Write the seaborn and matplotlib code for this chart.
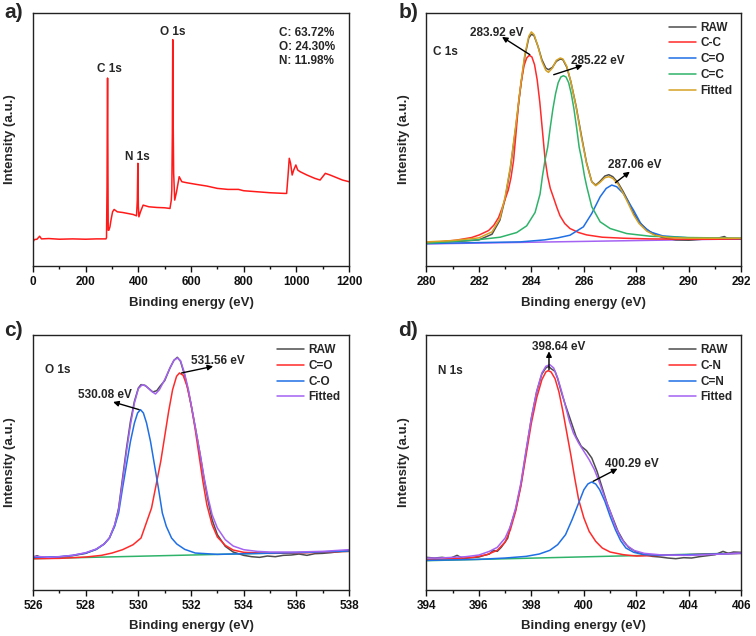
"""
XPS spectra: survey + high-resolution C 1s / O 1s / N 1s with peak fits
"""

import numpy as np
import pandas as pd
import matplotlib
matplotlib.use("Agg")
import matplotlib.pyplot as plt
import seaborn as sns

# ── data (binding energy in eV, intensity in a.u.) ───────────────────────
# survey
survey_e = [0, 5, 15, 25, 32, 60, 100, 150, 200, 240, 270, 277, 279, 281, 282, 283,
            283.8, 284.5, 285.5, 288, 292, 296, 302, 308, 320, 340, 360, 380, 393,
            396, 398, 400, 402, 408, 418, 440, 470, 500, 520, 525, 527, 529, 530.5,
            532, 534, 538, 545, 555, 565, 583, 620, 660, 700, 740, 780, 800, 850,
            900, 955, 963, 968, 973, 978, 984, 990, 998, 1005, 1014, 1040, 1070,
            1090, 1100, 1110, 1128, 1150, 1175, 1200]
survey_i = [72, 79, 80, 89, 81, 82, 80, 81, 80, 81, 81, 81, 85, 237, 447, 562,
            447, 277, 107, 107, 117, 137, 162, 169, 162, 160, 157, 154, 150,
            197, 307, 177, 147, 162, 182, 177, 175, 174, 172, 197, 227, 397, 677,
            447, 277, 197, 222, 267, 252, 249, 244, 239, 232, 229, 229, 225, 222,
            219, 217, 217, 267, 322, 307, 272, 287, 302, 287, 282, 272, 262,
            257, 267, 277, 272, 265, 257, 252]
survey_peaks = ["C 1s", "N 1s", "O 1s"]
survey_peak_pos = [(289, 590), (395, 327), (532, 700)]
composition = ["C: 63.72%", "O: 24.30%", "N: 11.98%"]

# C 1s
c1s_bg_e = [280, 292]
c1s_bg_i = [66, 81]
c1s_raw_e = [280, 280.5, 281, 281.5, 282, 282.5, 282.8, 283.0, 283.2, 283.4, 283.6, 283.75,
             283.9, 284.0, 284.1, 284.25, 284.4, 284.55, 284.65, 284.8, 284.95, 285.1,
             285.2, 285.35, 285.5, 285.7, 285.9, 286.1, 286.3, 286.45, 286.6, 286.8,
             286.95, 287.1, 287.3, 287.5, 287.7, 287.9, 288.1, 288.4, 288.7, 289.0,
             289.5, 290, 290.5, 291, 291.35, 291.5, 292]
c1s_raw_i = [69, 71, 73, 75, 78, 95, 137, 202, 292, 412, 542, 627,
             682, 693, 689, 657, 617, 592, 587, 594, 612, 619,
             617, 594, 552, 479, 392, 309, 252, 242, 252, 269,
             273, 267, 249, 222, 192, 157, 132, 109, 94, 85,
             78, 77, 80, 81, 88, 81, 82]
c1s_cc_e = [280, 280.6, 281.12, 281.72, 282.02, 282.37, 282.57, 282.75, 282.87, 283.0,
            283.12, 283.22, 283.32, 283.42, 283.52, 283.62, 283.72, 283.82, 283.92,
            284.02, 284.12, 284.22, 284.32, 284.42, 284.52, 284.62, 284.72, 284.84,
            284.97, 285.09, 285.27, 285.47, 285.8, 286.1, 286.7, 287.5, 288.5, 290, 292]
c1s_cc_i = [70, 73, 77, 85, 93, 106, 122, 145, 170, 200,
            227, 263, 315, 402, 495, 554, 599, 622, 630,
            625, 602, 557, 490, 405, 320, 268, 232, 205,
            175, 150, 127, 112, 100, 93, 86, 83, 81, 80, 80]
c1s_co_e = [280, 282, 283.57, 284.5, 285.0, 285.47, 285.98, 286.3, 286.62, 286.85,
            287.06, 287.25, 287.5, 287.89, 288.2, 288.52, 289.0, 290, 292]
c1s_co_i = [67, 70, 72, 78, 84, 92, 117, 157, 207, 232,
            242, 237, 217, 167, 122, 102, 90, 84, 82]
c1s_c2_e = [280, 281.9, 282.81, 283.44, 283.82, 284.14, 284.33, 284.42, 284.52, 284.62,
            284.72, 284.82, 284.92, 285.02, 285.12, 285.22, 285.32, 285.42, 285.52,
            285.62, 285.72, 285.82, 285.92, 286.02, 286.11, 286.3, 286.62, 287.0,
            287.63, 288.52, 290, 292]
c1s_c2_i = [68, 78, 86, 100, 120, 160, 215, 268, 317, 355,
            415, 470, 515, 548, 565, 569, 565, 548, 515,
            470, 415, 355, 317, 270, 237, 177, 132, 112,
            97, 89, 85, 83]
c1s_fit_e = [280, 281, 282, 282.5, 282.8, 283.0, 283.2, 283.4, 283.6, 283.75, 283.9,
             284.0, 284.1, 284.25, 284.4, 284.55, 284.65, 284.8, 284.95, 285.1, 285.2,
             285.35, 285.5, 285.7, 285.9, 286.1, 286.3, 286.45, 286.6, 286.8, 286.95,
             287.1, 287.3, 287.5, 287.7, 287.9, 288.1, 288.4, 288.7, 289.2, 290, 292]
c1s_fit_i = [72, 76, 84, 102, 142, 207, 297, 417, 547, 632, 687,
             700, 692, 657, 612, 585, 579, 592, 615, 622, 619,
             597, 552, 477, 387, 307, 252, 240, 249, 264, 267,
             262, 245, 217, 185, 152, 127, 104, 92, 85, 83, 83]

# O 1s
o1s_bg_e = [526, 538]
o1s_bg_i = [93, 115]
o1s_raw_e = [526.0, 526.15, 526.3, 526.6, 527.0, 527.5, 528.0, 528.4, 528.7, 528.9,
             529.1, 529.25, 529.4, 529.55, 529.7, 529.85, 530.0, 530.1, 530.25, 530.4,
             530.55, 530.7, 530.82, 531.0, 531.2, 531.35, 531.48, 531.6, 531.75, 531.9,
             532.05, 532.2, 532.35, 532.5, 532.65, 532.8, 533.0, 533.3, 533.6, 534.0,
             534.3, 534.6, 534.9, 535.2, 535.5, 535.8, 536.1, 536.4, 536.7, 537.0,
             537.3, 537.6, 538.0]
o1s_raw_i = [97, 102, 97, 96, 98, 102, 109, 121, 137, 155,
             193, 245, 335, 425, 505, 565, 605, 615, 613, 603,
             593, 597, 610, 627, 665, 688, 697, 685, 645, 595,
             535, 470, 403, 330, 265, 210, 165, 130, 113, 103,
             99, 97, 101, 99, 103, 104, 107, 103, 108, 109,
             111, 114, 118]
o1s_c1_e = [526, 527, 528, 528.6, 529.0, 529.4, 529.8, 530.1, 530.3, 530.5, 530.7,
            530.85, 531.0, 531.15, 531.3, 531.45, 531.56, 531.7, 531.85, 532.0, 532.15,
            532.3, 532.45, 532.6, 532.8, 533.0, 533.3, 533.6, 534.0, 535, 536, 538]
o1s_c1_i = [93, 94, 98, 103, 110, 120, 135, 155, 200, 245, 325,
            385, 460, 535, 600, 640, 650, 643, 610, 555, 485,
            405, 325, 255, 195, 158, 133, 119, 112, 109, 110, 115]
o1s_c2_e = [526.0, 526.5, 527.0, 527.5, 528.0, 528.4, 528.7, 528.9, 529.1, 529.25,
            529.4, 529.55, 529.7, 529.85, 529.97, 530.08, 530.19, 530.31, 530.46, 530.61,
            530.76, 530.91, 531.06, 531.26, 531.46, 531.76, 532.16, 533.0, 534, 536, 538]
o1s_c2_i = [97, 98, 99, 103, 110, 121, 137, 155, 190, 230,
            305, 375, 445, 500, 530, 540, 530, 500, 445, 375,
            305, 230, 190, 155, 137, 121, 110, 106, 108, 111, 116]
o1s_fit_e = [526.0, 526.3, 526.6, 527.0, 527.5, 528.0, 528.4, 528.7, 528.9, 529.1,
             529.25, 529.4, 529.55, 529.7, 529.85, 530.0, 530.15, 530.3, 530.5, 530.65,
             530.8, 531.0, 531.2, 531.35, 531.48, 531.6, 531.75, 531.9, 532.05, 532.2,
             532.35, 532.5, 532.65, 532.8, 533.0, 533.3, 533.6, 534.0, 534.5, 535,
             536, 537, 538]
o1s_fit_i = [100, 99, 97, 99, 103, 111, 122, 137, 155, 195,
             240, 325, 415, 495, 560, 603, 615, 610, 595, 587,
             600, 630, 665, 688, 695, 687, 650, 600, 535, 470,
             405, 335, 275, 225, 185, 150, 131, 120, 115, 113,
             113, 115, 120]

# N 1s
n1s_bg_e = [394, 406]
n1s_bg_i = [87, 110]
n1s_raw_e = [394.0, 394.3, 394.6, 394.9, 395.17, 395.4, 395.7, 396.0, 396.2, 396.4,
             396.55, 396.7, 396.85, 397.0, 397.1, 397.2, 397.4, 397.6, 397.8, 398.0,
             398.2, 398.4, 398.55, 398.65, 398.75, 398.9, 399.0, 399.15, 399.3, 399.4,
             399.55, 399.7, 399.9, 400.1, 400.3, 400.5, 400.7, 400.9, 401.1, 401.3,
             401.5, 401.7, 402.0, 402.3, 402.6, 402.9, 403.2, 403.5, 403.8, 404.1,
             404.4, 404.7, 405.0, 405.3, 405.5, 405.7, 406.0]
n1s_raw_i = [97, 95, 97, 94, 103, 93, 96, 98, 103, 107,
             118, 115, 127, 143, 155, 190, 240, 315, 415, 515,
             593, 647, 665, 670, 663, 655, 633, 590, 553, 530,
             495, 460, 430, 417, 395, 355, 305, 255, 215, 175,
             147, 127, 113, 105, 100, 98, 95, 93, 96, 95,
             99, 102, 105, 115, 109, 113, 112]
n1s_c1_e = [394.0, 395.0, 395.8, 396.3, 396.7, 397.0, 397.2, 397.4, 397.6, 397.8,
            398.0, 398.2, 398.4, 398.55, 398.64, 398.75, 398.9, 399.05, 399.2, 399.35,
            399.5, 399.65, 399.8, 400.0, 400.2, 400.45, 400.7, 401.0, 401.5, 402.0,
            403, 404, 406]
n1s_c1_i = [90, 93, 97, 105, 118, 143, 180, 235, 310, 405,
            500, 575, 630, 653, 657, 653, 633, 593, 535, 470,
            405, 335, 270, 215, 175, 145, 125, 113, 105, 101,
            103, 105, 109]
n1s_c2_e = [394, 396, 397, 397.8, 398.3, 398.7, 399.0, 399.3, 399.55, 399.8,
            400.0, 400.15, 400.29, 400.45, 400.6, 400.8, 401.0, 401.2, 401.4, 401.6,
            401.9, 402.3, 403, 404, 406]
n1s_c2_i = [88, 91, 95, 100, 107, 118, 135, 165, 210, 260,
            300, 317, 323, 317, 300, 265, 220, 180, 147, 125,
            112, 105, 103, 105, 109]
n1s_fit_e = [394.0, 394.5, 395.0, 395.5, 396.0, 396.4, 396.7, 397.0, 397.2, 397.4,
             397.6, 397.8, 398.0, 398.2, 398.4, 398.55, 398.7, 398.85, 399.0, 399.15,
             399.3, 399.45, 399.6, 399.8, 400.0, 400.2, 400.4, 400.6, 400.8, 401.0,
             401.2, 401.4, 401.6, 401.9, 402.3, 403.0, 404.0, 405.0, 406.0]
n1s_fit_i = [95, 95, 97, 99, 104, 115, 127, 155, 190, 245,
             320, 420, 515, 595, 650, 670, 675, 665, 635, 595,
             550, 505, 470, 440, 415, 390, 360, 320, 275, 235,
             190, 157, 135, 118, 109, 104, 103, 106, 110]

# ── style ────────────────────────────────────────────────────────────────
sns.set_theme(style="ticks")
plt.rcParams.update({
    "font.family": ["Liberation Sans", "DejaVu Sans"],
    "font.weight": "bold",
    "axes.labelweight": "bold",
    "axes.linewidth": 1.0,
    "axes.edgecolor": "#222222",
    "xtick.direction": "out",
    "xtick.major.size": 4,
    "xtick.minor.size": 2.5,
    "xtick.major.width": 1.0,
    "xtick.minor.width": 1.0,
    "xtick.labelsize": 8.5,
    "xtick.color": "#111111",
})

C_RAW = "#4d4d4d"
C_RED = "#ff2a2a"
C_BLUE = "#1f6fe5"
C_GREEN = "#2fb36a"
C_GOLD = "#d6a224"
C_PURPLE = "#a463f2"
FS_TXT = 8.5


def line(ax, e, i, color, label=None):
    sns.lineplot(x=e, y=i, ax=ax, color=color, lw=1.1, label=label,
                 legend=False, estimator=None, sort=False)


def style_axis(ax, xlim, major, minor, ymax):
    ax.set_xlim(*xlim)
    ax.set_ylim(0, ymax)
    ax.set_xticks(np.arange(xlim[0], xlim[1] + 0.01, major))
    ax.set_xticks(np.arange(xlim[0], xlim[1] + 0.01, minor), minor=True)
    ax.set_yticks([])
    ax.tick_params(axis="x", which="both", top=False, pad=3.5)
    for s in ax.spines.values():
        s.set_visible(True)
    ax.set_xlabel("Binding energy (eV)", fontsize=9.5, labelpad=6)
    ax.set_ylabel("Intensity (a.u.)", fontsize=9.5, labelpad=12)


def arrow(ax, tail, head):
    ax.annotate("", xy=head, xytext=tail,
                arrowprops=dict(arrowstyle="-|>", color="black", lw=1.0,
                                mutation_scale=8, shrinkA=0, shrinkB=0))


def legend(ax):
    ax.legend(loc="upper right", frameon=False, prop={"weight": "bold", "size": FS_TXT},
              handlelength=2.3, handletextpad=0.35, labelspacing=0.32,
              borderaxespad=0.35)


fig = plt.figure(figsize=(7.56, 6.36), dpi=100)
ax_a = fig.add_axes([0.0437, 0.5818, 0.418, 0.398])
ax_b = fig.add_axes([0.564, 0.5818, 0.4167, 0.398])
ax_c = fig.add_axes([0.0437, 0.0728, 0.418, 0.400])
ax_d = fig.add_axes([0.564, 0.0728, 0.4167, 0.400])

# ── a) survey ────────────────────────────────────────────────────────────
line(ax_a, survey_e, survey_i, "#ff1a1a")
style_axis(ax_a, (0, 1200), 200, 100, 757)
for name, (x, y) in zip(survey_peaks, survey_peak_pos):
    ax_a.text(x, y, name, ha="center", va="center", fontsize=FS_TXT, fontweight="bold")
for k, s in enumerate(composition):
    ax_a.text(935, 697 - 42 * k, s, ha="left", va="center", fontsize=FS_TXT,
              fontweight="bold")

# ── b) C 1s ──────────────────────────────────────────────────────────────
line(ax_b, c1s_bg_e, c1s_bg_i, C_PURPLE)
line(ax_b, c1s_raw_e, c1s_raw_i, C_RAW, "RAW")
line(ax_b, c1s_cc_e, c1s_cc_i, C_RED, "C-C")
line(ax_b, c1s_co_e, c1s_co_i, C_BLUE, "C=O")
line(ax_b, c1s_c2_e, c1s_c2_i, C_GREEN, "C=C")
line(ax_b, c1s_fit_e, c1s_fit_i, C_GOLD, "Fitted")
style_axis(ax_b, (280, 292), 2, 1, 757)
legend(ax_b)
ax_b.text(280.25, 640, "C 1s", ha="left", va="center", fontsize=FS_TXT)
ax_b.text(281.66, 697, "283.92 eV", ha="left", va="center", fontsize=FS_TXT)
arrow(ax_b, (283.94, 632), (282.88, 685))
ax_b.text(285.5, 612, "285.22 eV", ha="left", va="center", fontsize=FS_TXT)
arrow(ax_b, (284.85, 572), (285.95, 600))
ax_b.text(286.9, 302, "287.06 eV", ha="left", va="center", fontsize=FS_TXT)
arrow(ax_b, (287.2, 249), (287.75, 282))

# ── c) O 1s ──────────────────────────────────────────────────────────────
line(ax_c, o1s_bg_e, o1s_bg_i, C_GREEN)
line(ax_c, o1s_raw_e, o1s_raw_i, C_RAW, "RAW")
line(ax_c, o1s_c1_e, o1s_c1_i, C_RED, "C=O")
line(ax_c, o1s_c2_e, o1s_c2_i, C_BLUE, "C-O")
line(ax_c, o1s_fit_e, o1s_fit_i, C_PURPLE, "Fitted")
style_axis(ax_c, (526, 538), 2, 1, 763)
legend(ax_c)
ax_c.text(526.44, 658, "O 1s", ha="left", va="center", fontsize=FS_TXT)
ax_c.text(531.98, 687, "531.56 eV", ha="left", va="center", fontsize=FS_TXT)
arrow(ax_c, (531.64, 650), (532.84, 670))
ax_c.text(527.69, 583, "530.08 eV", ha="left", va="center", fontsize=FS_TXT)
arrow(ax_c, (530.03, 540), (529.04, 563))

# ── d) N 1s ──────────────────────────────────────────────────────────────
line(ax_d, n1s_bg_e, n1s_bg_i, C_GREEN)
line(ax_d, n1s_raw_e, n1s_raw_i, C_RAW, "RAW")
line(ax_d, n1s_c1_e, n1s_c1_i, C_RED, "C-N")
line(ax_d, n1s_c2_e, n1s_c2_i, C_BLUE, "C=N")
line(ax_d, n1s_fit_e, n1s_fit_i, C_PURPLE, "Fitted")
style_axis(ax_d, (394, 406), 2, 1, 763)
legend(ax_d)
ax_d.text(394.44, 657, "N 1s", ha="left", va="center", fontsize=FS_TXT)
ax_d.text(399.05, 727, "398.64 eV", ha="center", va="center", fontsize=FS_TXT)
arrow(ax_d, (398.67, 660), (398.67, 715))
ax_d.text(400.79, 377, "400.29 eV", ha="left", va="center", fontsize=FS_TXT)
arrow(ax_d, (400.35, 325), (401.28, 363))

# panel letters
for lab, (x, y) in zip(["a)", "b)", "c)", "d)"],
                       [(0.006, 0.995), (0.527, 0.995), (0.006, 0.495), (0.527, 0.495)]):
    fig.text(x, y, lab, ha="left", va="top", fontsize=15, fontweight="bold")

fig.savefig("out.png", dpi=100, facecolor="white")
